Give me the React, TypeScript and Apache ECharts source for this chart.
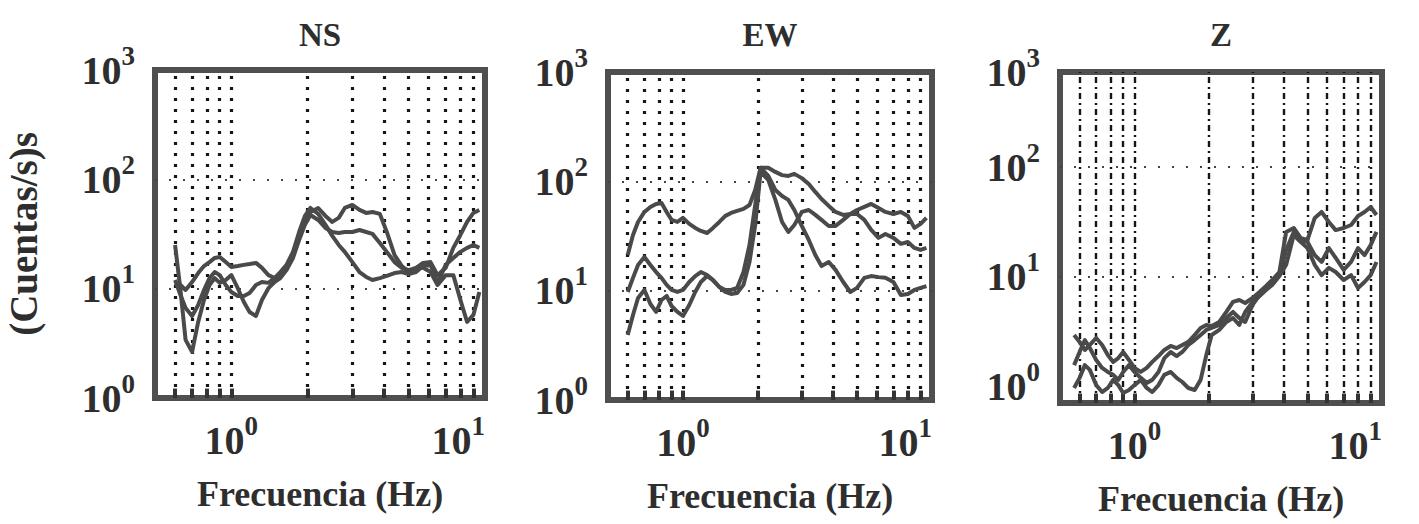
import React, { useEffect, useRef } from 'react';
import * as echarts from 'echarts';

// ---------------- data ----------------
const FREQ = [0.6, 0.63, 0.66, 0.7, 0.74, 0.78, 0.82, 0.86, 0.9, 0.95, 1.0, 1.06, 1.12, 1.18, 1.25, 1.32, 1.4, 1.48, 1.56, 1.65, 1.75, 1.85, 1.95, 2.05, 2.2, 2.35, 2.5, 2.65, 2.8, 3.0, 3.2, 3.4, 3.6, 3.85, 4.1, 4.4, 4.7, 5.0, 5.35, 5.7, 6.1, 6.5, 7.0, 7.5, 8.0, 8.5, 9.0, 9.5];

const NS_A = [25.1, 9.73, 3.4, 2.64, 4.96, 7.88, 10.8, 12.5, 11.3, 12.0, 13.3, 10.1, 7.55, 6.12, 5.63, 7.88, 10.1, 11.5, 12.5, 14.8, 19.1, 27.9, 38.3, 47.2, 42.5, 35.9, 33.0, 32.3, 33.0, 33.0, 34.4, 33.0, 31.7, 26.2, 21.7, 17.5, 15.5, 14.8, 15.5, 15.5, 14.2, 10.8, 13.3, 13.3, 7.88, 4.96, 5.75, 9.33];
const NS_B = [11.3, 10.8, 9.73, 11.5, 13.9, 16.1, 17.5, 19.1, 19.5, 17.5, 15.8, 16.1, 16.5, 16.8, 17.2, 15.5, 13.3, 12.5, 13.1, 15.5, 20.3, 30.4, 42.5, 50.3, 54.7, 46.3, 40.8, 44.4, 54.7, 58.3, 52.5, 49.3, 50.3, 48.3, 33.0, 20.3, 16.1, 14.2, 15.5, 17.2, 17.5, 13.3, 15.5, 23.6, 31.0, 40.8, 49.3, 52.5];
const NS_C = [12.0, 8.76, 6.66, 5.63, 7.10, 9.73, 12.5, 14.2, 13.3, 10.8, 9.33, 8.57, 8.57, 9.13, 10.8, 11.5, 11.3, 12.5, 14.2, 16.5, 21.7, 33.0, 46.3, 54.7, 48.3, 38.3, 30.4, 25.1, 21.7, 17.5, 14.2, 12.8, 12.0, 12.5, 13.1, 13.9, 14.2, 13.6, 14.2, 16.1, 16.5, 11.3, 16.5, 19.1, 21.7, 23.6, 25.1, 23.6];

const EW_T = [21.2, 32.3, 42.5, 52.5, 58.3, 62.1, 63.4, 52.5, 44.4, 42.5, 46.3, 40.8, 37.5, 35.2, 33.7, 37.5, 42.5, 48.3, 51.4, 53.6, 55.9, 60.8, 83.4, 133, 133, 122, 114, 112, 117, 107, 94.7, 80.0, 69.0, 59.6, 52.5, 49.3, 50.3, 54.7, 58.3, 62.1, 57.1, 52.5, 50.3, 52.5, 48.3, 37.5, 40.8, 46.3];
const EW_M = [9.73, 13.1, 17.2, 20.3, 17.2, 14.8, 13.1, 11.3, 10.15, 9.73, 10.15, 12.0, 13.6, 14.8, 13.9, 12.5, 10.8, 9.73, 9.33, 9.53, 11.3, 18.3, 39.9, 122, 103, 67.6, 42.5, 34.4, 39.9, 52.5, 54.7, 49.3, 44.4, 39.1, 39.1, 44.4, 50.3, 50.3, 44.4, 35.9, 30.4, 33.0, 30.4, 26.8, 27.9, 24.6, 23.6, 24.6];
const EW_B = [3.93, 5.99, 8.57, 10.15, 7.55, 6.39, 8.22, 8.94, 7.24, 6.39, 5.87, 7.40, 9.73, 12.0, 13.6, 12.5, 10.8, 10.15, 10.15, 10.6, 14.8, 26.2, 60.8, 133, 112, 83.4, 73.5, 67.6, 54.7, 39.1, 29.1, 21.2, 16.8, 18.3, 15.5, 12.0, 9.73, 10.6, 13.1, 13.6, 13.3, 13.1, 12.0, 9.13, 9.33, 10.15, 10.6, 11.0];

const FREQ_Z = [0.57, 0.6, 0.63, 0.66, 0.7, 0.74, 0.78, 0.82, 0.86, 0.9, 0.95, 1.0, 1.06, 1.12, 1.18, 1.25, 1.32, 1.4, 1.48, 1.56, 1.65, 1.75, 1.85, 1.95, 2.05, 2.2, 2.35, 2.5, 2.65, 2.8, 3.0, 3.2, 3.4, 3.6, 3.85, 4.1, 4.4, 4.7, 5.0, 5.35, 5.7, 6.1, 6.5, 7.0, 7.5, 8.0, 8.5, 9.0, 9.5];
const Z_1 = [2.97, 2.57, 2.17, 2.41, 2.79, 2.41, 1.95, 1.69, 1.83, 2.08, 1.76, 1.49, 1.37, 1.49, 1.69, 1.91, 2.17, 2.36, 2.26, 2.41, 2.57, 2.97, 3.44, 3.66, 3.59, 3.90, 4.81, 5.93, 6.18, 5.80, 6.44, 7.31, 8.28, 9.39, 11.1, 25.7, 27.9, 22.6, 21.7, 34.4, 39.0, 31.6, 26.7, 27.9, 29.7, 35.9, 39.0, 43.3, 36.6];
const Z_2 = [1.58, 2.08, 2.67, 2.26, 1.76, 1.49, 1.37, 1.29, 1.16, 1.37, 1.58, 1.37, 1.21, 1.09, 1.16, 1.37, 1.83, 2.08, 1.91, 2.08, 2.41, 2.67, 2.97, 3.30, 3.44, 3.66, 4.24, 4.81, 4.24, 3.90, 5.57, 6.86, 7.94, 8.82, 10.4, 17.6, 25.7, 21.7, 20.8, 15.8, 13.7, 18.3, 14.9, 11.6, 13.7, 18.3, 15.8, 19.5, 25.7];
const Z_3 = [0.979, 1.21, 1.58, 1.43, 1.04, 0.90, 0.979, 1.16, 1.04, 0.882, 0.939, 1.04, 1.16, 0.979, 0.90, 1.04, 1.29, 1.37, 1.21, 1.11, 0.979, 0.939, 1.16, 1.95, 2.97, 3.30, 3.90, 4.24, 3.66, 4.81, 5.93, 6.72, 7.62, 8.46, 10.2, 12.9, 24.1, 20.8, 18.3, 12.9, 10.4, 12.1, 11.1, 9.39, 10.4, 7.94, 9.0, 10.4, 13.7];

const GRID_FREQ = [0.6, 0.7, 0.8, 0.9, 1, 2, 3, 4, 5, 6, 7, 8, 9];
const H_GRID = [10, 100];
const PANEL_TITLES = ['NS', 'EW', 'Z'];
const X_NAME = 'Frecuencia (Hz)';
const Y_NAME = '(Cuentas/s)s';
const X_RANGE = [0.5, 10];
const Y_RANGE = [1, 1000];
const Y_RANGE_Z = [0.715, 731];
const Z_TOP_EXP = 3;

// ---------------- styling ----------------
const FONT = 'Liberation Serif';
const TEXT_COLOR = '#2e2e2e';
const LINE_COLOR = '#4a4a4a';
const FRAME_COLOR = '#4f4f4f';

const GRIDS = [
  { left: 155, top: 70, width: 330, height: 328 },
  { left: 608, top: 72, width: 324, height: 328 },
  { left: 1060, top: 72, width: 322, height: 331 },
];

const rich = {
  b: { fontFamily: FONT, fontWeight: 'bold', fontSize: 40, color: TEXT_COLOR, lineHeight: 40, verticalAlign: 'bottom', padding: [0, 0, 8, 0] },
  s: { fontFamily: FONT, fontWeight: 'bold', fontSize: 27, color: TEXT_COLOR, lineHeight: 56, verticalAlign: 'top' },
};

const powLabel = (v: number) => {
  const e = Math.log10(v);
  const r = Math.round(e);
  if (Math.abs(e - r) > 1e-6) return '';
  return `{b|10}{s|${r}}`;
};

function buildOption() {
  const panels = [
    { freq: FREQ, curves: [NS_A, NS_B, NS_C], yRange: Y_RANGE, dash: [3, 8] as number[], gw: 3.2 },
    { freq: FREQ, curves: [EW_T, EW_M, EW_B], yRange: Y_RANGE, dash: [3, 8] as number[], gw: 3.2 },
    { freq: FREQ_Z, curves: [Z_1, Z_2, Z_3], yRange: Y_RANGE_Z, dash: [6, 4, 2, 4] as number[], gw: 2.4 },
  ];

  const grid = GRIDS.map((g) => ({
    ...g,
    show: true,
    borderColor: FRAME_COLOR,
    borderWidth: 6,
    backgroundColor: 'transparent',
  }));

  const xAxis = panels.map((_, i) => ({
    type: 'log',
    logBase: 10,
    gridIndex: i,
    min: X_RANGE[0],
    max: X_RANGE[1],
    axisLine: { show: false },
    axisTick: { show: false },
    splitLine: { show: false },
    axisLabel: {
      formatter: powLabel,
      rich,
      margin: 14,
      showMinLabel: true,
      showMaxLabel: true,
      alignMaxLabel: 'right',
    },
    name: X_NAME,
    nameLocation: 'middle',
    nameGap: 78,
    nameTextStyle: { fontFamily: FONT, fontWeight: 'bold', fontSize: 36, color: TEXT_COLOR },
  }));

  const yAxis = panels.map((p, i) => ({
    type: 'log',
    logBase: 10,
    gridIndex: i,
    min: p.yRange[0],
    max: p.yRange[1],
    axisLine: { show: false },
    axisTick: { show: false },
    splitLine: { show: false },
    axisLabel: {
      formatter: i === 2
        ? (v: number) => (v >= Y_RANGE_Z[1] * 0.999 ? `{b|10}{s|${Z_TOP_EXP}}` : powLabel(v))
        : powLabel,
      rich,
      margin: 20,
      showMinLabel: true,
      showMaxLabel: true,
    },
    name: i === 0 ? Y_NAME : '',
    nameLocation: 'middle',
    nameRotate: 90,
    nameGap: 112,
    nameTextStyle: { fontFamily: FONT, fontWeight: 'bold', fontSize: 39, color: TEXT_COLOR },
  }));

  const series: any[] = [];
  panels.forEach((p, i) => {
    p.curves.forEach((c, k) => {
      const s: any = {
        type: 'line',
        xAxisIndex: i,
        yAxisIndex: i,
        data: p.freq.map((f, j) => [f, c[j]]),
        showSymbol: false,
        symbol: 'none',
        lineStyle: { color: LINE_COLOR, width: 4, join: 'round' },
        itemStyle: { color: LINE_COLOR },
        z: 3,
      };
      if (k === 0) {
        s.markLine = {
          silent: true,
          symbol: ['none', 'none'],
          label: { show: false },
          lineStyle: { type: p.dash, color: '#161616', width: p.gw },
          data: GRID_FREQ.map((f) => ({ xAxis: f })),
          z: 2,
        };
      } else if (k === 1) {
        s.markLine = {
          silent: true,
          symbol: ['none', 'none'],
          label: { show: false },
          lineStyle: { type: [2, 12], color: '#444', width: 2 },
          data: H_GRID.map((v) => ({ yAxis: v })),
          z: 2,
        };
      } else {
        s.markLine = {
          silent: true,
          symbol: ['none', 'none'],
          label: { show: false },
          lineStyle: { type: 'solid', color: '#333', width: 4 },
          data: GRID_FREQ.map((f) => [
            { coord: [f, p.yRange[0]] },
            { coord: [f, p.yRange[0] * 1.22] },
          ]),
          z: 2,
        };
      }
      series.push(s);
    });
  });

  const title = PANEL_TITLES.map((t, i) => ({
    text: t,
    left: GRIDS[i].left + GRIDS[i].width / 2,
    top: 18,
    textAlign: 'center',
    padding: 0,
    textStyle: { fontFamily: FONT, fontWeight: 'bold', fontSize: 33, color: TEXT_COLOR },
  }));

  return {
    animation: false,
    backgroundColor: '#ffffff',
    title,
    grid,
    xAxis,
    yAxis,
    series,
  };
}

export default function App() {
  const ref = useRef<HTMLDivElement>(null);
  useEffect(() => {
    if (!ref.current) return;
    const chart = echarts.init(ref.current, null, { renderer: 'svg' });
    chart.setOption(buildOption() as any);
    return () => chart.dispose();
  }, []);
  return (
    <div
      ref={ref}
      style={{ position: 'fixed', left: 0, top: 0, width: 1419, height: 524, background: '#fff' }}
    />
  );
}
